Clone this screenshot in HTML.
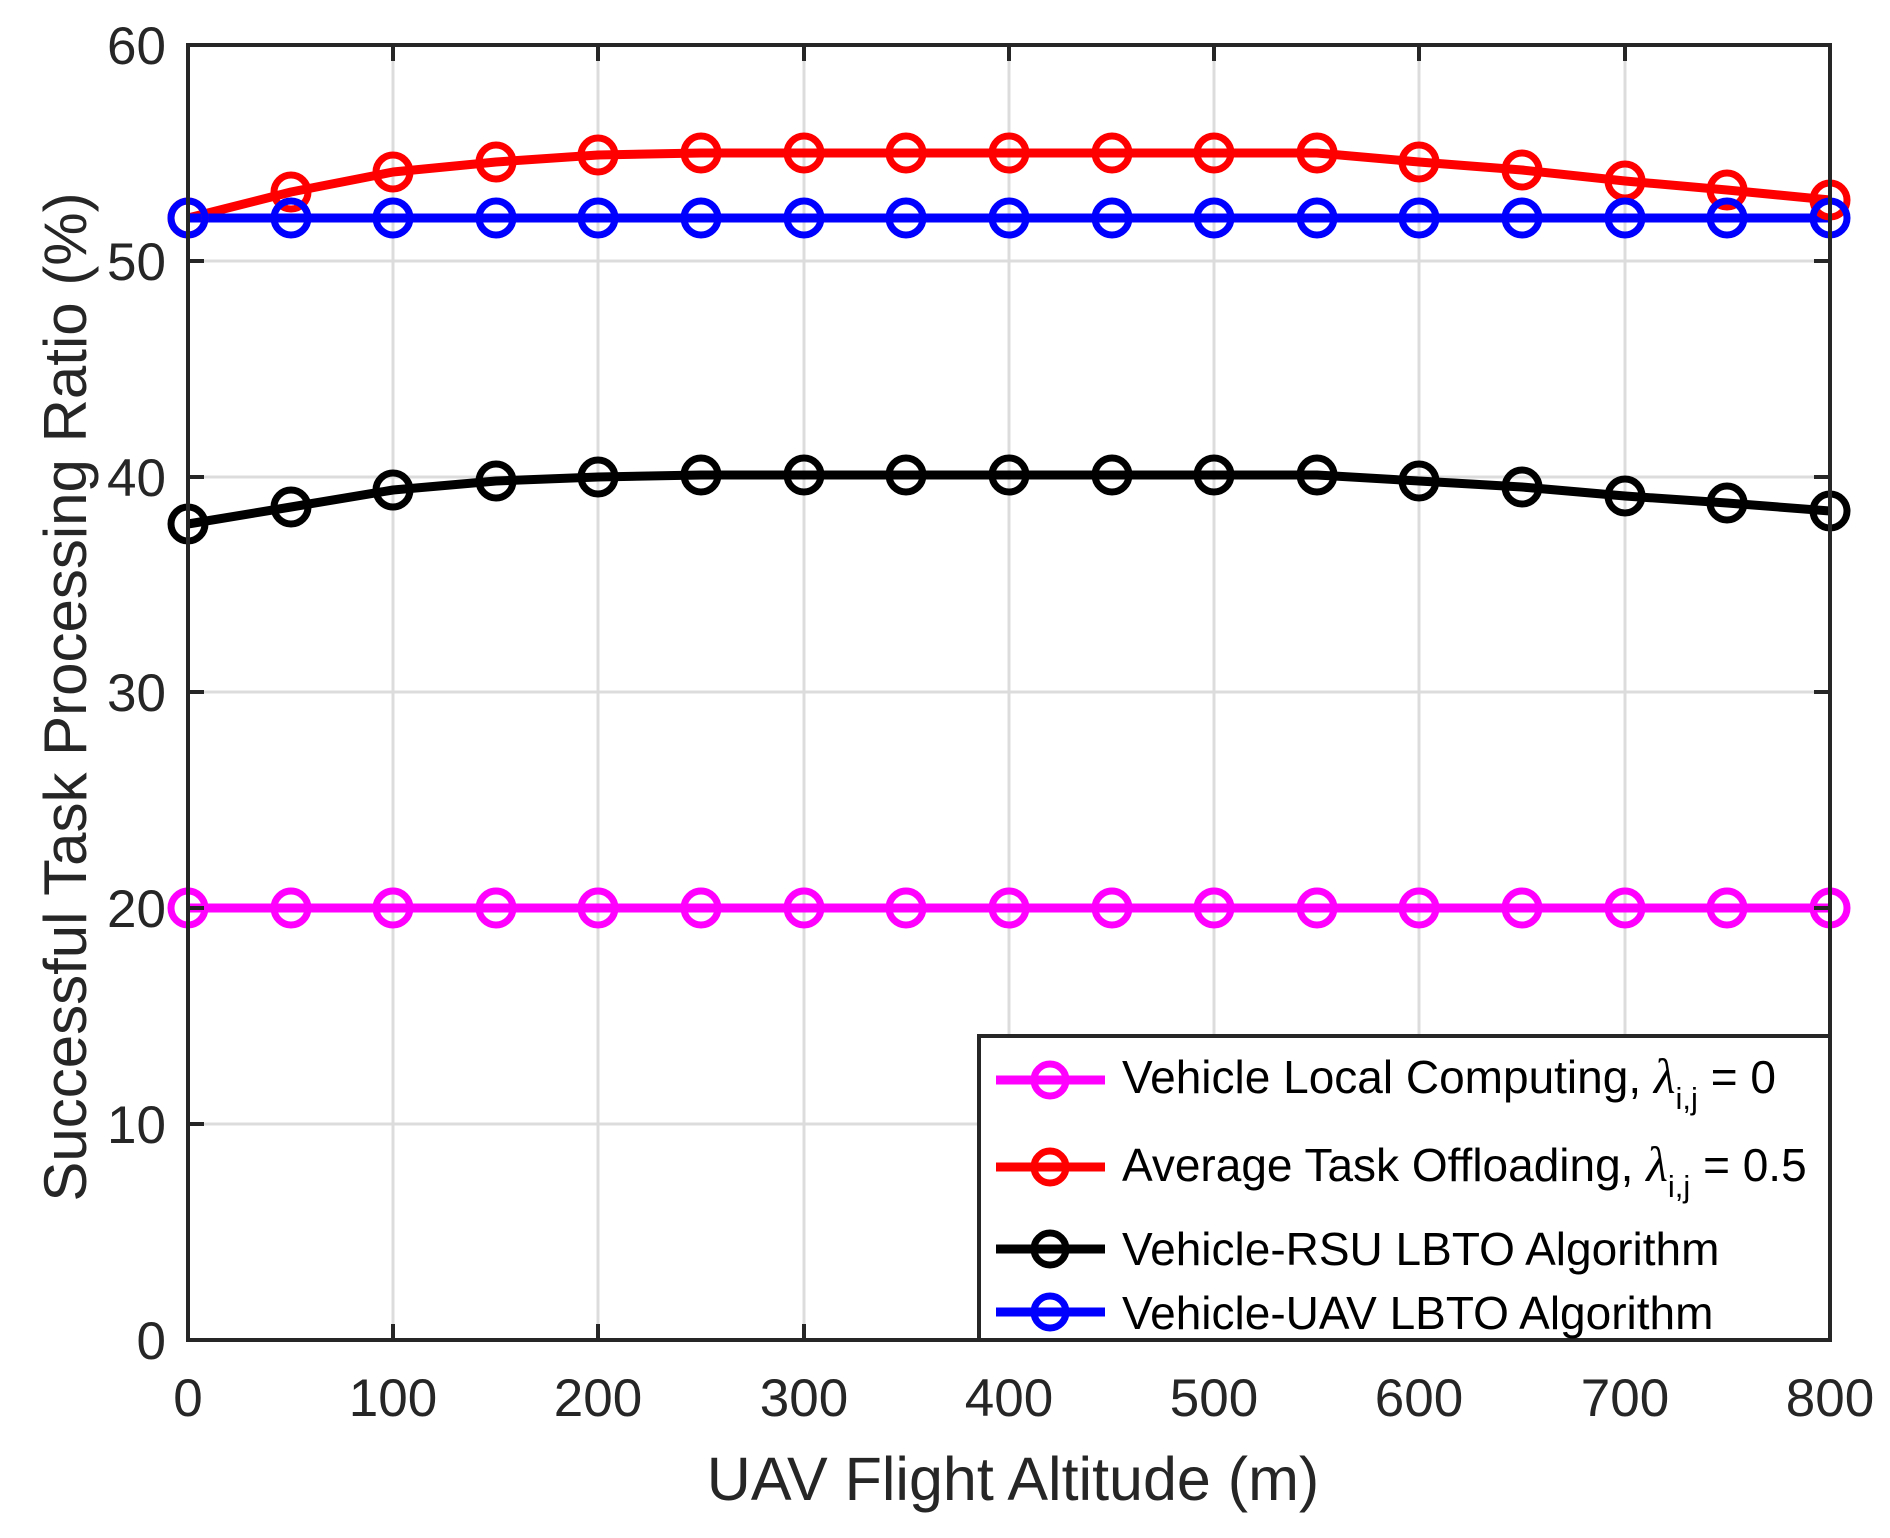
<!DOCTYPE html>
<html><head><style>body{margin:0;background:#fff}svg{display:block}</style></head>
<body>
<svg width="1890" height="1538" viewBox="0 0 1890 1538" xmlns="http://www.w3.org/2000/svg" font-family="Liberation Sans, Arial, sans-serif">
<rect width="1890" height="1538" fill="#fff"/>
<g stroke="#dcdcdc" stroke-width="3">
<line x1="393" y1="45" x2="393" y2="1340"/><line x1="598" y1="45" x2="598" y2="1340"/><line x1="804" y1="45" x2="804" y2="1340"/><line x1="1009" y1="45" x2="1009" y2="1340"/><line x1="1214" y1="45" x2="1214" y2="1340"/><line x1="1419" y1="45" x2="1419" y2="1340"/><line x1="1625" y1="45" x2="1625" y2="1340"/>
<line x1="188" y1="1124" x2="1830" y2="1124"/><line x1="188" y1="908" x2="1830" y2="908"/><line x1="188" y1="692" x2="1830" y2="692"/><line x1="188" y1="477" x2="1830" y2="477"/><line x1="188" y1="261" x2="1830" y2="261"/>
</g>
<g fill="none" stroke-width="9" stroke-linejoin="round">
<polyline stroke="#ff00ff" points="188,908 1830,908"/>
<polyline stroke="#ff0000" points="188,218 291,192 393,172 496,162 598,155 701,153 804,153 906,153 1009,153 1112,153 1214,153 1317,153 1419,162 1522,170 1625,181 1727,190 1830,200"/>
<polyline stroke="#000" points="188,524 291,507 393,490 496,481 598,477 701,475 804,475 906,475 1009,475 1112,475 1214,475 1317,475 1419,481 1522,487 1625,496 1727,503 1830,511"/>
<polyline stroke="#0000ff" points="188,218 1830,218"/>
</g>
<g fill="none" stroke-width="7">
<g stroke="#ff00ff">
<circle cx="188" cy="908" r="17"/><circle cx="291" cy="908" r="17"/><circle cx="393" cy="908" r="17"/><circle cx="496" cy="908" r="17"/><circle cx="598" cy="908" r="17"/><circle cx="701" cy="908" r="17"/><circle cx="804" cy="908" r="17"/><circle cx="906" cy="908" r="17"/><circle cx="1009" cy="908" r="17"/><circle cx="1112" cy="908" r="17"/><circle cx="1214" cy="908" r="17"/><circle cx="1317" cy="908" r="17"/><circle cx="1419" cy="908" r="17"/><circle cx="1522" cy="908" r="17"/><circle cx="1625" cy="908" r="17"/><circle cx="1727" cy="908" r="17"/><circle cx="1830" cy="908" r="17"/>
</g>
<g stroke="#ff0000">
<circle cx="188" cy="218" r="17"/><circle cx="291" cy="192" r="17"/><circle cx="393" cy="172" r="17"/><circle cx="496" cy="162" r="17"/><circle cx="598" cy="155" r="17"/><circle cx="701" cy="153" r="17"/><circle cx="804" cy="153" r="17"/><circle cx="906" cy="153" r="17"/><circle cx="1009" cy="153" r="17"/><circle cx="1112" cy="153" r="17"/><circle cx="1214" cy="153" r="17"/><circle cx="1317" cy="153" r="17"/><circle cx="1419" cy="162" r="17"/><circle cx="1522" cy="170" r="17"/><circle cx="1625" cy="181" r="17"/><circle cx="1727" cy="190" r="17"/><circle cx="1830" cy="200" r="17"/>
</g>
<g stroke="#000">
<circle cx="188" cy="524" r="17"/><circle cx="291" cy="507" r="17"/><circle cx="393" cy="490" r="17"/><circle cx="496" cy="481" r="17"/><circle cx="598" cy="477" r="17"/><circle cx="701" cy="475" r="17"/><circle cx="804" cy="475" r="17"/><circle cx="906" cy="475" r="17"/><circle cx="1009" cy="475" r="17"/><circle cx="1112" cy="475" r="17"/><circle cx="1214" cy="475" r="17"/><circle cx="1317" cy="475" r="17"/><circle cx="1419" cy="481" r="17"/><circle cx="1522" cy="487" r="17"/><circle cx="1625" cy="496" r="17"/><circle cx="1727" cy="503" r="17"/><circle cx="1830" cy="511" r="17"/>
</g>
<g stroke="#0000ff">
<circle cx="188" cy="218" r="17"/><circle cx="291" cy="218" r="17"/><circle cx="393" cy="218" r="17"/><circle cx="496" cy="218" r="17"/><circle cx="598" cy="218" r="17"/><circle cx="701" cy="218" r="17"/><circle cx="804" cy="218" r="17"/><circle cx="906" cy="218" r="17"/><circle cx="1009" cy="218" r="17"/><circle cx="1112" cy="218" r="17"/><circle cx="1214" cy="218" r="17"/><circle cx="1317" cy="218" r="17"/><circle cx="1419" cy="218" r="17"/><circle cx="1522" cy="218" r="17"/><circle cx="1625" cy="218" r="17"/><circle cx="1727" cy="218" r="17"/><circle cx="1830" cy="218" r="17"/>
</g>
</g>
<rect x="188" y="45" width="1642" height="1295" fill="none" stroke="#262626" stroke-width="4"/>
<g stroke="#262626" stroke-width="4">
<line x1="393" y1="1340" x2="393" y2="1324"/><line x1="598" y1="1340" x2="598" y2="1324"/><line x1="804" y1="1340" x2="804" y2="1324"/><line x1="1009" y1="1340" x2="1009" y2="1324"/><line x1="1214" y1="1340" x2="1214" y2="1324"/><line x1="1419" y1="1340" x2="1419" y2="1324"/><line x1="1625" y1="1340" x2="1625" y2="1324"/>
<line x1="393" y1="45" x2="393" y2="61"/><line x1="598" y1="45" x2="598" y2="61"/><line x1="804" y1="45" x2="804" y2="61"/><line x1="1009" y1="45" x2="1009" y2="61"/><line x1="1214" y1="45" x2="1214" y2="61"/><line x1="1419" y1="45" x2="1419" y2="61"/><line x1="1625" y1="45" x2="1625" y2="61"/>
<line x1="188" y1="1124" x2="204" y2="1124"/><line x1="188" y1="908" x2="204" y2="908"/><line x1="188" y1="692" x2="204" y2="692"/><line x1="188" y1="477" x2="204" y2="477"/><line x1="188" y1="261" x2="204" y2="261"/>
<line x1="1830" y1="1124" x2="1814" y2="1124"/><line x1="1830" y1="908" x2="1814" y2="908"/><line x1="1830" y1="692" x2="1814" y2="692"/><line x1="1830" y1="477" x2="1814" y2="477"/><line x1="1830" y1="261" x2="1814" y2="261"/>
</g>
<g fill="#262626" font-size="53" text-anchor="end">
<text x="166" y="1359">0</text><text x="166" y="1143">10</text><text x="166" y="927">20</text><text x="166" y="711">30</text><text x="166" y="496">40</text><text x="166" y="280">50</text><text x="166" y="64">60</text>
</g>
<g fill="#262626" font-size="53" text-anchor="middle">
<text x="188" y="1416">0</text><text x="393" y="1416">100</text><text x="598" y="1416">200</text><text x="804" y="1416">300</text><text x="1009" y="1416">400</text><text x="1214" y="1416">500</text><text x="1419" y="1416">600</text><text x="1625" y="1416">700</text><text x="1830" y="1416">800</text>
</g>
<text x="1013" y="1500" fill="#262626" font-size="61" text-anchor="middle">UAV Flight Altitude (m)</text>
<text transform="translate(86,697) rotate(-90)" fill="#262626" font-size="60" text-anchor="middle">Successful Task Processing Ratio (%)</text>
<rect x="979" y="1036" width="851" height="304" fill="#fff" stroke="#262626" stroke-width="4"/>
<g stroke-width="9"><line x1="996" y1="1080" x2="1105" y2="1080" stroke="#ff00ff"/><line x1="996" y1="1167" x2="1105" y2="1167" stroke="#ff0000"/><line x1="996" y1="1249" x2="1105" y2="1249" stroke="#000"/><line x1="996" y1="1312" x2="1105" y2="1312" stroke="#0000ff"/></g>
<g fill="none" stroke-width="7"><circle cx="1050" cy="1080" r="16" stroke="#ff00ff"/><circle cx="1050" cy="1167" r="16" stroke="#ff0000"/><circle cx="1050" cy="1249" r="16" stroke="#000"/><circle cx="1050" cy="1312" r="16" stroke="#0000ff"/></g>
<g fill="#000" font-size="46">
<text x="1122" y="1093">Vehicle Local Computing, <tspan font-family="Liberation Serif, serif" font-style="italic" font-size="50">λ</tspan><tspan font-size="31" dy="16">i,j</tspan><tspan dy="-16"> = 0</tspan></text>
<text x="1122" y="1181">Average Task Offloading, <tspan font-family="Liberation Serif, serif" font-style="italic" font-size="50">λ</tspan><tspan font-size="31" dy="16">i,j</tspan><tspan dy="-16"> = 0.5</tspan></text>
<text x="1122" y="1265">Vehicle-RSU LBTO Algorithm</text>
<text x="1122" y="1329">Vehicle-UAV LBTO Algorithm</text>
</g>
</svg>
</body></html>
